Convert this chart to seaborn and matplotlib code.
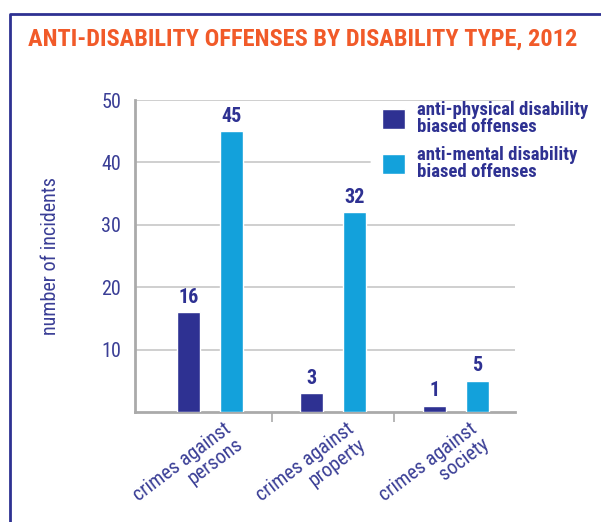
import numpy as np
import pandas as pd
import matplotlib
matplotlib.use('Agg')
import matplotlib.pyplot as plt
import matplotlib.transforms as mtransforms
from matplotlib.lines import Line2D
import seaborn as sns

# data
categories = ['crimes against\npersons', 'crimes against\nproperty', 'crimes against\nsociety']
series_names = ['anti-physical disability\nbiased offenses', 'anti-mental disability\nbiased offenses']
physical = [16, 3, 1]
mental = [45, 32, 5]
y_ticks = [10, 20, 30, 40, 50]

NAVY = '#2e3192'
CYAN = '#13a1db'
ORANGE = '#f15a29'
TXT = '#3a3e96'

sns.set_theme(style='white')
plt.rcParams['font.family'] = ['Roboto Condensed', 'DejaVu Sans']

df = pd.DataFrame({
    'category': categories * 2,
    'series': [series_names[0]] * 3 + [series_names[1]] * 3,
    'value': physical + mental,
})

fig = plt.figure(figsize=(6.01, 5.22), dpi=100)
ax = fig.add_axes([135 / 601, 1 - 412 / 522, 380 / 601, 312 / 522])

sns.barplot(data=df, x='category', y='value', hue='series',
            palette=[NAVY, CYAN], width=0.7, gap=0.47, saturation=1,
            ax=ax, zorder=3)

ax.set_ylim(0, 50)
ax.set_xlim(-0.61, 2.48)
ax.set_yticks(y_ticks)
# gridlines; the one at 40 stops short of the legend
for y in y_ticks:
    xmax = (370 - 135) / 380 if y == 40 else 1
    ax.axhline(y, xmin=0, xmax=xmax, color='#cccccc', linewidth=1.3, zorder=0)
for s in ['top', 'right']:
    ax.spines[s].set_visible(False)
for s in ['left', 'bottom']:
    ax.spines[s].set_color('#aaaaaa')
    ax.spines[s].set_linewidth(2)

for c in ax.containers:
    ax.bar_label(c, padding=4, color=NAVY, fontsize=14.5, fontweight='bold')

ax.tick_params(axis='y', length=0, labelsize=14.5, labelcolor=TXT, pad=10)
ax.tick_params(axis='x', which='major', length=0, labelsize=14.5, labelcolor=TXT, pad=5)
ax.set_xticks([0.5, 1.5], minor=True)
ax.tick_params(axis='x', which='minor', length=7, width=1.2, color='#aaaaaa', bottom=True)
ax.set_xticks(range(len(categories)))
ax.set_xticklabels(categories, rotation=37, ha='right', rotation_mode='anchor',
                   multialignment='right', linespacing=1.05)
shift = mtransforms.ScaledTranslation(0.13, 0, fig.dpi_scale_trans)
for lbl in ax.get_xticklabels():
    lbl.set_transform(lbl.get_transform() + shift)
ax.set_xlabel('')
ax.set_ylabel('number of incidents', fontsize=14.5, color=TXT, labelpad=30)

leg = ax.legend(loc='upper left', bbox_to_anchor=(382 / 601, 1 - 101 / 522),
                bbox_transform=fig.transFigure, frameon=False, fontsize=13.5,
                handlelength=1.25, handleheight=1.25, handletextpad=0.62,
                labelspacing=0.55, borderpad=0, borderaxespad=0)
for t in leg.get_texts():
    t.set_color(NAVY)
    t.set_fontweight('bold')
    t.set_linespacing(0.9)

fig.text(28 / 601, 1 - 39 / 522, 'ANTI-DISABILITY OFFENSES BY DISABILITY TYPE, 2012',
         color=ORANGE, fontsize=17.6, fontweight='bold', va='center', ha='left')

fig.add_artist(Line2D([10 / 601, 10 / 601, 1], [0, 1 - 14 / 522, 1 - 14 / 522],
                      transform=fig.transFigure, color=NAVY, linewidth=2))

fig.savefig('out.png', dpi=100)
